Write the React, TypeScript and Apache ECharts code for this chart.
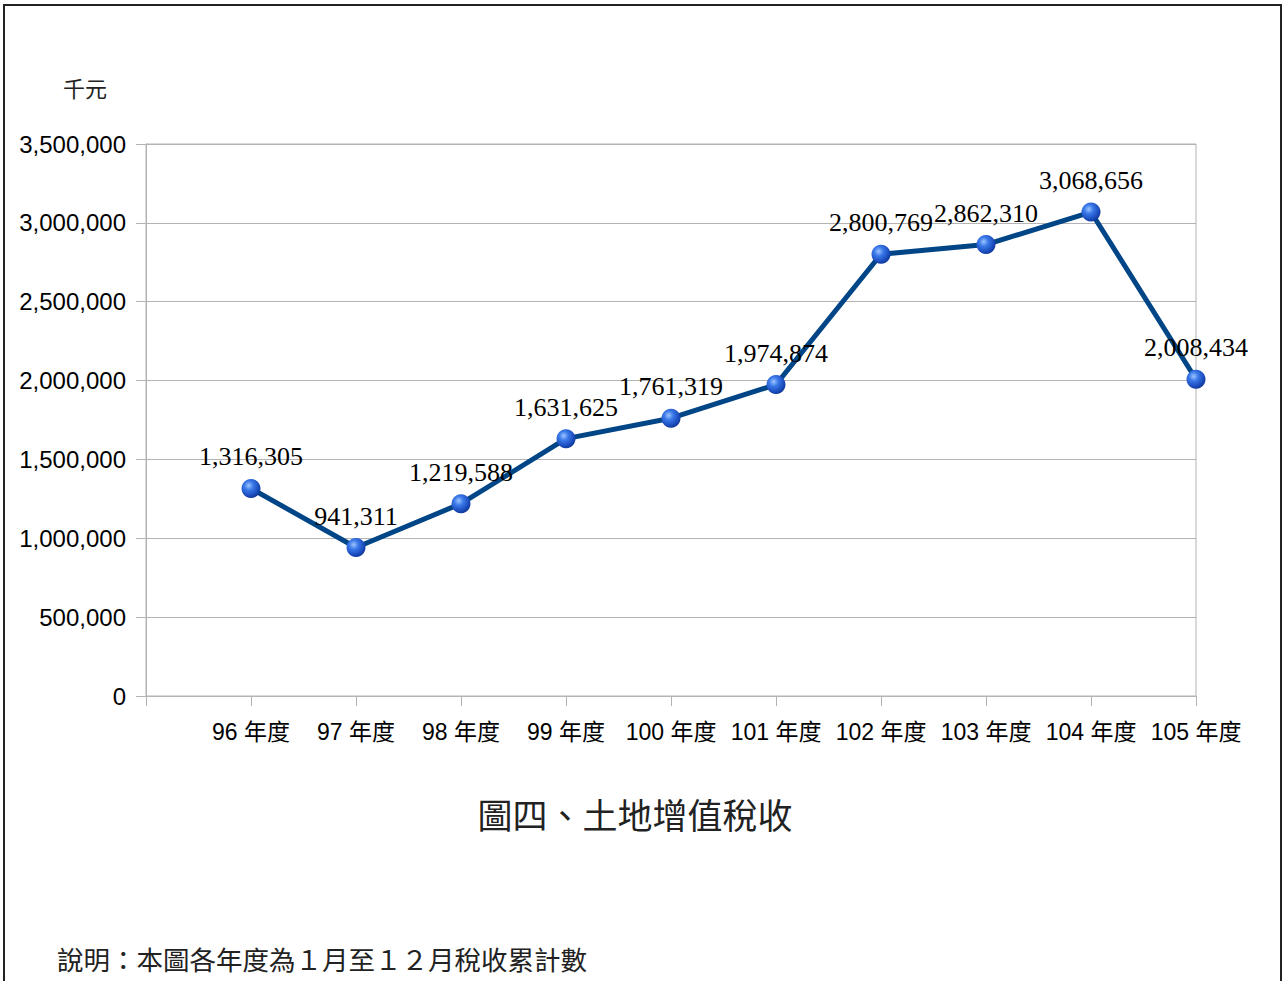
import React, { useEffect, useRef } from "react";
import * as echarts from "echarts";

const categories = ["", "96 年度", "97 年度", "98 年度", "99 年度", "100 年度", "101 年度", "102 年度", "103 年度", "104 年度", "105 年度"];
const taxValues: (number | null)[] = [null, 1316305, 941311, 1219588, 1631625, 1761319, 1974874, 2800769, 2862310, 3068656, 2008434];
const yMin = 0;
const yMax = 3500000;
const yInterval = 500000;
const unitLabel = "千元";
const chartTitle = "圖四、土地增值稅收";
const footnote = "說明：本圖各年度為１月至１２月稅收累計數";

const fmt = (v: number) => Number(v).toLocaleString("en-US");

export default function App() {
  const ref = useRef<HTMLDivElement>(null);
  useEffect(() => {
    if (!ref.current) return;
    const chart = echarts.init(ref.current, undefined, { renderer: "svg" });
    const sans = "'Liberation Sans', Arial, sans-serif";
    const cjk = "'Noto Sans CJK TC', 'Noto Sans', sans-serif";
    chart.setOption({
      animation: false,
      backgroundColor: "#ffffff",
      grid: {
        left: 146,
        top: 144,
        width: 1050,
        height: 552,
        show: true,
        borderColor: "#b3b3b3",
        borderWidth: 1,
        containLabel: false,
      },
      xAxis: {
        type: "category",
        data: categories,
        boundaryGap: false,
        axisLine: { show: true, lineStyle: { color: "#b3b3b3", width: 1 } },
        axisTick: { show: true, interval: 0, length: 10, lineStyle: { color: "#b3b3b3" } },
        axisLabel: {
          interval: 0,
          margin: 24,
          color: "#000",
          fontSize: 23,
          fontFamily: "'Liberation Sans', 'Noto Sans CJK TC', sans-serif",
        },
        splitLine: { show: false },
      },
      yAxis: {
        type: "value",
        min: yMin,
        max: yMax,
        interval: yInterval,
        axisLine: { show: true, lineStyle: { color: "#b3b3b3", width: 1 } },
        axisTick: { show: true, length: 10, lineStyle: { color: "#b3b3b3" } },
        axisLabel: {
          margin: 20,
          color: "#000",
          fontSize: 24,
          fontFamily: sans,
          formatter: (v: number) => fmt(v),
        },
        splitLine: { show: true, lineStyle: { color: "#b3b3b3", width: 1 } },
      },
      series: [
        {
          type: "line",
          data: taxValues,
          lineStyle: { color: "#004586", width: 5 },
          symbol: "circle",
          symbolSize: 19,
          itemStyle: {
            color: new echarts.graphic.RadialGradient(0.38, 0.35, 0.7, [
              { offset: 0, color: "#9cc4ff" },
              { offset: 0.35, color: "#3a78e8" },
              { offset: 0.8, color: "#1848b8" },
              { offset: 1, color: "#0f3490" },
            ]),
            borderWidth: 0,
          },
          label: {
            show: true,
            position: "top",
            distance: 9,
            color: "#000",
            fontSize: 26,
            fontFamily: "'Liberation Serif', 'Times New Roman', serif",
            formatter: (p: any) => (p.value == null ? "" : fmt(p.value)),
          },
        },
      ],
      graphic: [
        {
          type: "rect",
          shape: { x: 4, y: 5, width: 1277, height: 1000 },
          style: { fill: "none", stroke: "#222", lineWidth: 2 },
          silent: true,
        },
        {
          type: "text",
          x: 63,
          y: 87,
          style: { text: unitLabel, fontSize: 22, fontFamily: cjk, fill: "#222", textVerticalAlign: "middle" },
        },
        {
          type: "text",
          x: 635,
          y: 813,
          style: { text: chartTitle, fontSize: 35, fontFamily: cjk, fill: "#222", textAlign: "center", textVerticalAlign: "middle" },
        },
        {
          type: "text",
          x: 57,
          y: 958,
          style: { text: footnote, fontSize: 26.5, fontFamily: cjk, fill: "#222", textVerticalAlign: "middle" },
        },
      ],
    });
    return () => chart.dispose();
  }, []);
  return <div ref={ref} style={{ position: "absolute", left: 0, top: 0, width: 1285, height: 981 }} />;
}
